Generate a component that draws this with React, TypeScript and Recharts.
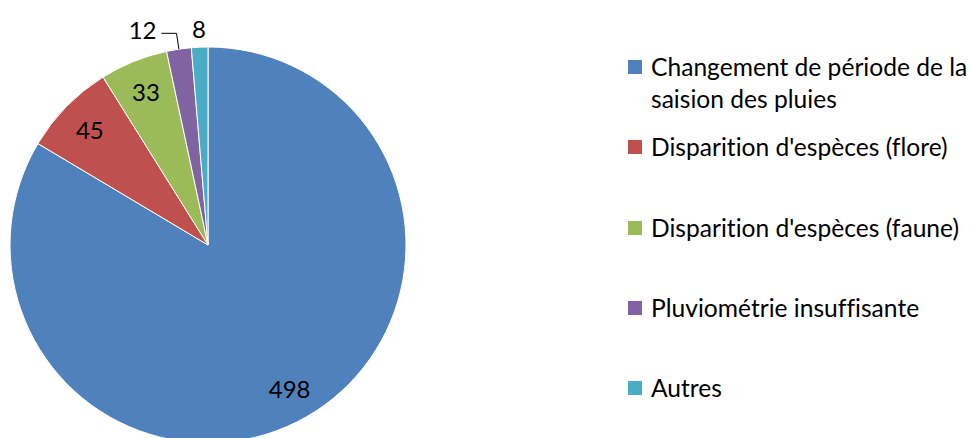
import { PieChart, Pie, Cell, Legend } from "recharts";

const categories = [
  "Changement de période de la saision des pluies",
  "Disparition d'espèces (flore)",
  "Disparition d'espèces (faune)",
  "Pluviométrie insuffisante",
  "Autres",
];
const values = [498, 45, 33, 12, 8];
const colors = ["#4F81BD", "#C0504D", "#9BBB59", "#8064A2", "#4BACC6"];

const data = categories.map((name, i) => ({ name, value: values[i] }));

const FONT = "Lato, 'Open Sans', sans-serif";
const RAD = Math.PI / 180;
const labelStyle = { fontVariantLigatures: "none" } as const;

const renderLabel = (props: any) => {
  const { cx, cy, midAngle, outerRadius, value, index } = props;
  const cos = Math.cos(-midAngle * RAD);
  const sin = Math.sin(-midAngle * RAD);
  if (index === 3) {
    // small slice: label outside with an elbow leader line
    const sx = cx + outerRadius * cos;
    const sy = cy + outerRadius * sin;
    const ex = cx + (outerRadius + 16) * cos;
    const ey = cy + (outerRadius + 16) * sin;
    const hx = ex - 15;
    return (
      <g>
        <polyline
          points={`${sx},${sy} ${ex},${ey} ${hx},${ey}`}
          fill="none"
          stroke="#000"
          strokeWidth={1}
        />
        <text x={hx - 5} y={ey - 4} textAnchor="end" dominantBaseline="central" fill="#000" fontSize={24} fontFamily={FONT}>
          {value}
        </text>
      </g>
    );
  }
  if (index === 4) {
    const r = outerRadius + 19;
    return (
      <text x={cx + r * cos} y={cy + r * sin} textAnchor="middle" dominantBaseline="central" fill="#000" fontSize={24} fontFamily={FONT}>
        {value}
      </text>
    );
  }
  const r = outerRadius * 0.835;
  return (
    <text x={cx + r * cos} y={cy + r * sin} textAnchor="middle" dominantBaseline="central" fill="#000" fontSize={24} fontFamily={FONT}>
      {value}
    </text>
  );
};

// legend drawn in the data's own order (Recharts sorts the payload)
const renderLegend = () => (
  <div style={{ position: "relative", width: 344, height: 438 }}>
    {data.map((d, i) => (
      <div
        key={d.name}
        style={{
          position: "absolute",
          left: 0,
          top: 51 + i * 80.3,
          display: "flex",
          alignItems: "flex-start",
          fontFamily: FONT,
          fontSize: 24.6,
          lineHeight: "32px",
          color: "#000",
          ...labelStyle,
        }}
      >
        <span
          style={{
            width: 14,
            height: 14,
            marginTop: 9,
            marginRight: 9,
            flex: "none",
            background: colors[i],
          }}
        />
        <span style={{ width: 330 }}>{d.name}</span>
      </div>
    ))}
  </div>
);

export default function App() {
  return (
    <div style={{ position: "absolute", left: 0, top: 0, background: "#fff" }}>
      <PieChart width={972} height={438} margin={{ top: 0, right: 0, bottom: 0, left: 0 }}>
        <Pie
          data={data}
          dataKey="value"
          nameKey="name"
          cx={208}
          cy={245}
          outerRadius={198}
          startAngle={90}
          endAngle={-270}
          stroke="#fff"
          strokeWidth={1}
          label={renderLabel}
          labelLine={false}
          isAnimationActive={false}
        >
          {data.map((d, i) => (
            <Cell key={d.name} fill={colors[i]} />
          ))}
        </Pie>
        <Legend
          layout="vertical"
          align="right"
          verticalAlign="top"
          content={renderLegend}
          wrapperStyle={{ left: 628, top: 0, width: 344, height: 438 }}
        />
      </PieChart>
    </div>
  );
}
